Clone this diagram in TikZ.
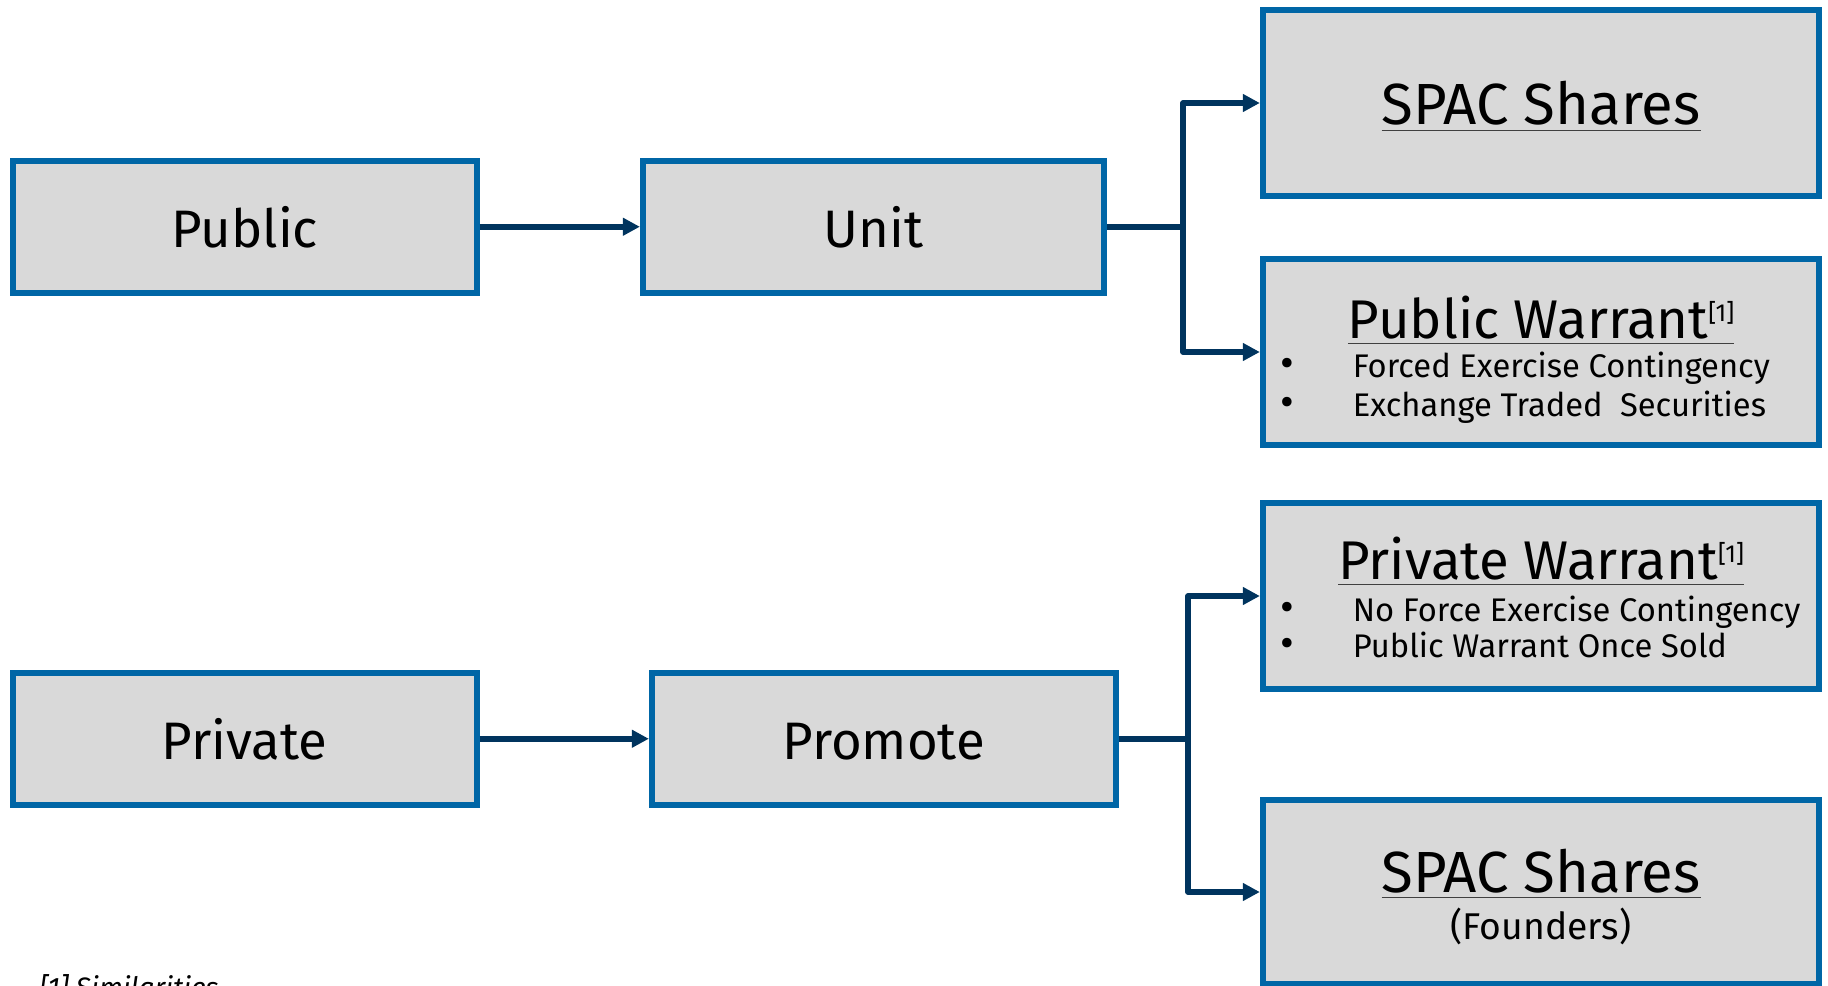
\documentclass[tikz,border=0pt]{standalone}
\usepackage{fontspec}
\setmainfont{Fira Sans}
\usetikzlibrary{arrows.meta}
\definecolor{boxblue}{HTML}{0066A6}
\definecolor{boxgray}{HTML}{D9D9D9}
\definecolor{linknavy}{HTML}{00345E}
\definecolor{rulegray}{HTML}{404040}

\newcommand{\headline}[1]{{\color{rulegray}\underline{\color{black}#1}}}
\newcommand{\refmark}{\raisebox{4.6pt}{\fontsize{7}{8}\selectfont[1]}}
\newcommand{\bl}[1]{\makebox[0.72cm][l]{\fontsize{12}{12}\selectfont\textbullet}#1}

\tikzset{
	block/.style={draw=boxblue, fill=boxgray, line width=0.06cm, rectangle, inner sep=0pt,
		minimum width=4.635cm, minimum height=1.32cm, text height=0.41cm, text depth=0pt,
		font=\fontsize{15}{18}\selectfont},
	bigblock/.style={block, minimum width=5.56cm, minimum height=1.85cm},
	heading/.style={inner sep=0pt, anchor=base, font=\fontsize{15.5}{18}\selectfont},
	point/.style={inner sep=0pt, anchor=base west, text height=0.24cm, text depth=0pt,
		font=\fontsize{9.3}{11}\selectfont},
	link/.style={draw=linknavy, line width=0.055cm, line join=round,
		-{Triangle[length=0.17cm,width=0.17cm]}},
}

\begin{document}
\begin{tikzpicture}[x=0.01cm, y=-0.01cm]
	\useasboundingbox (0,0) rectangle (1828,985);

	% left column and middle column
	\node[block] (public) at (244.75,226.75) {Public};
	\node[block, minimum width=4.61cm] (unit) at (873.5,226.75) {Unit};
	\node[block] (private) at (244.75,738.75) {Private};
	\node[block] (promote) at (883.75,738.75) {Promote};

	% right column
	\node[bigblock] (spac) at (1541,103) {};
	\node[bigblock] (pubw) at (1541,352) {};
	\node[bigblock] (privw) at (1541,596) {};
	\node[bigblock, minimum height=1.84cm] (founders) at (1541,892) {};

	\node[heading, font=\fontsize{16.5}{19}\selectfont] (spacttl) at (1541,125) {\headline{SPAC Shares}};
	\node[heading] (pubwttl) at (1541,338) {\headline{Public Warrant\refmark}};
	\node[point] (pubwa) at (1280,377.5) {\bl{Forced Exercise Contingency}};
	\node[point] (pubwb) at (1280,416) {\bl{Exchange Traded\ \ Securities}};
	\node[heading] (privwttl) at (1541,579) {\headline{Private Warrant\refmark}};
	\node[point] (privwa) at (1280,621) {\bl{No Force Exercise Contingency}};
	\node[point] (privwb) at (1280,657) {\bl{Public Warrant Once Sold}};
	\node[heading, font=\fontsize{16.5}{19}\selectfont] (fndttl) at (1541,892) {\headline{SPAC Shares}};
	\node[point, anchor=base, font=\fontsize{10.6}{13}\selectfont] (fndsub) at (1541,939.5) {(Founders)};

	% footnote, cut by the page edge
	\node[inner sep=0pt, anchor=base west, font=\fontsize{8}{10}\selectfont\itshape] (fnote) at (39,997) {[1] Similarities};

	% connectors
	\coordinate (ufork) at (1183,0);
	\coordinate (pfork) at (1188,0);
	\draw[link] (public) -- (unit);
	\draw[link] (unit.east) -- (unit.east -| ufork) |- (spac.west);
	\draw[link] (unit.east -| ufork) |- (pubw.west);
	\draw[link] (private) -- (promote);
	\draw[link] (promote.east) -- (promote.east -| pfork) |- (privw.west);
	\draw[link] (promote.east -| pfork) |- (founders.west);
\end{tikzpicture}
\end{document}
